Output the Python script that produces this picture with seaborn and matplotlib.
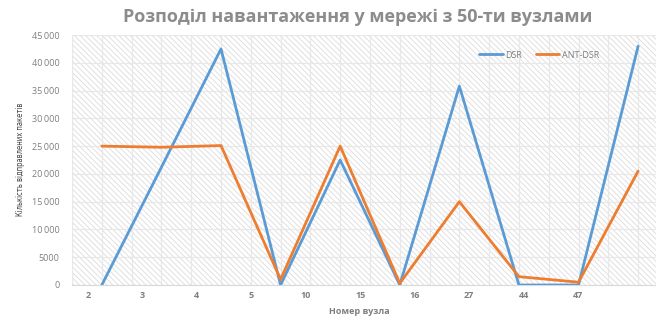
import numpy as np
import pandas as pd
import matplotlib
matplotlib.use('Agg')
import matplotlib.pyplot as plt
import seaborn as sns
from matplotlib.patches import Rectangle
from matplotlib.ticker import FuncFormatter

# node labels and packet counts per node
nodes = ['2', '3', '4', '5', '10', '15', '16', '27', '44', '47']
dsr = [0, 21200, 42500, 0, 22500, 0, 35800, 0, 0, 43000]
ant_dsr = [25000, 24800, 25100, 1000, 25000, 300, 15000, 1500, 500, 20500]

TEXT = '#7f7f7f'
COLORS = {'DSR': '#5B9BD5', 'ANT-DSR': '#ED7D31'}

sns.set_style('white')
plt.rcParams['font.family'] = ['Open Sans', 'DejaVu Sans']
plt.rcParams['hatch.linewidth'] = 0.6

idx = np.arange(len(nodes))
df = pd.DataFrame({
    'pos': np.concatenate([idx, idx]),
    'value': dsr + ant_dsr,
    'series': ['DSR'] * len(nodes) + ['ANT-DSR'] * len(nodes),
})

fig = plt.figure(figsize=(6.56, 3.18), dpi=100)
ax = fig.add_axes([0.1098, 0.1038, 0.8902, 0.786])

# diagonal hatched background of the plot area
ax.add_patch(Rectangle((0, 0), 1, 1, transform=ax.transAxes, facecolor='white',
                       edgecolor='#dcdcdc', hatch='\\\\\\\\\\\\', lw=0, zorder=0.1))

# half-category vertical grid and 5000 step horizontal grid
for x in np.arange(-0.5, 10, 0.5):
    ax.axvline(x, color='#e8e8e8', lw=0.9, zorder=0.5)
for y in range(0, 45001, 5000):
    ax.axhline(y, color='#e8e8e8', lw=0.9, zorder=0.5)

sns.lineplot(data=df, x='pos', y='value', hue='series', palette=COLORS,
             linewidth=2, ax=ax, legend=False, zorder=3)

ax.set_xlim(-0.5, 9.3)
ax.set_ylim(0, 45000)
ax.set_yticks(range(0, 45001, 5000))
ax.yaxis.set_major_formatter(FuncFormatter(
    lambda v, p: '0' if v == 0 else ('5000' if v == 5000 else f'{int(v):,}'.replace(',', '\u2009'))))
# category labels sit slightly left of the points, as in the source
ax.set_xticks(-0.235 + 0.914 * idx)
ax.set_xticklabels(nodes)
ax.tick_params(axis='both', length=0, labelsize=6.5, colors=TEXT)
ax.tick_params(axis='y', pad=9)
ax.tick_params(axis='x', pad=4)
for lab in ax.get_xticklabels():
    lab.set_fontweight('bold')
for s in ['top', 'right', 'left']:
    ax.spines[s].set_visible(False)
ax.spines['bottom'].set_color('#d9d9d9')

ax.set_xlabel('')
ax.set_ylabel('')
fig.text(0.548, 0.022, 'Номер вузла', ha='center', va='center',
         fontsize=6.5, fontweight='bold', color=TEXT)
fig.text(0.032, 0.5, 'Кількість відправлених пакетів', rotation=90, ha='center', va='center',
         fontsize=5.5, color='#404040', fontstretch='condensed',
         family=['Liberation Sans Narrow', 'DejaVu Sans Condensed', 'DejaVu Sans'])

fig.text(0.545, 0.945, 'Розподіл навантаження у мережі з 50-ти вузлами', ha='center', va='center',
         fontsize=13, fontweight='bold', color='#8c8c8c')

handles = [plt.Line2D([0], [0], color=COLORS[k], lw=2) for k in ['DSR', 'ANT-DSR']]
fig.legend(handles, ['DSR', 'ANT-DSR'], loc='center', bbox_to_anchor=(0.822, 0.827), ncol=2,
           frameon=False, fontsize=6.5, labelcolor=TEXT, handlelength=2.6, columnspacing=1.5,
           handletextpad=0.3)

fig.savefig('out.png', dpi=100)
